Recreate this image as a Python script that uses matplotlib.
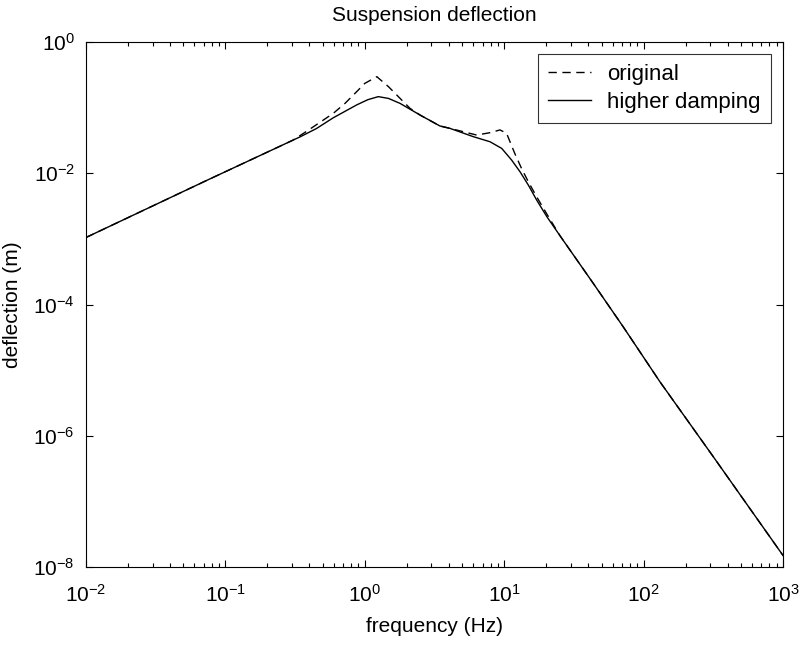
import matplotlib
matplotlib.use('Agg')
import matplotlib.pyplot as plt
from matplotlib.ticker import LogLocator, NullLocator, NullFormatter

plt.rcParams['font.family'] = ['Liberation Sans', 'DejaVu Sans']
plt.rcParams['mathtext.default'] = 'regular'

# frequency response, original suspension (Hz, m)
f_orig = [0.01, 0.0726, 0.304, 0.383, 0.594, 0.721, 0.851, 1.0, 1.22,
          1.48, 1.74, 2.11, 2.49, 3.46, 4.08, 6.34, 7.91, 9.33, 10.4,
          11.9, 13.3, 14.9, 17.1, 20.2, 25.1, 43.6, 71.4, 131, 316, 1000]
d_orig = [1.05e-3, 7.69e-3, 0.0318, 0.0436, 0.0818, 0.116, 0.165, 0.234, 0.296,
          0.208, 0.147, 0.0975, 0.0771, 0.0525, 0.0483, 0.0382, 0.0415, 0.0457, 0.0406,
          0.0201, 0.0119, 0.0074, 0.00437, 0.0024, 1.12e-3, 2.09e-4, 4.57e-5, 6.64e-6, 4.8e-7, 1.5e-8]

# frequency response, higher damping
f_damp = [0.01, 0.0726, 0.304, 0.343, 0.45, 0.594, 0.875, 1.05, 1.25, 1.48,
          1.79, 2.49, 3.46, 4.08, 6.0, 7.91, 9.6, 11.3, 13.0, 14.9,
          17.1, 20.2, 25.1, 43.6, 71.4, 131, 316, 1000]
d_damp = [1.05e-3, 7.69e-3, 0.0318, 0.0358, 0.0480, 0.0700, 0.110, 0.132, 0.147, 0.138,
          0.116, 0.0771, 0.0525, 0.0483, 0.0361, 0.0302, 0.0239, 0.0159, 0.0105, 0.0066,
          0.0039, 0.00219, 1.12e-3, 2.09e-4, 4.57e-5, 6.64e-6, 4.8e-7, 1.5e-8]

fig = plt.figure(figsize=(8.03, 6.45), dpi=100)
ax = fig.add_axes([0.1071, 0.1209, 0.868, 0.814])

ax.loglog(f_orig, d_orig, color='black', linestyle=(0, (6, 4)), linewidth=1.0, label='original')
ax.loglog(f_damp, d_damp, color='black', linestyle='-', linewidth=1.0, label='higher damping')

ax.set_xlim(1e-2, 1e3)
ax.set_ylim(1e-8, 1e0)
ax.set_yticks([1e-8, 1e-6, 1e-4, 1e-2, 1e0])
ax.yaxis.set_minor_locator(NullLocator())
ax.xaxis.set_major_locator(LogLocator(base=10, numticks=10))
ax.xaxis.set_minor_locator(LogLocator(base=10, subs=range(2, 10), numticks=20))
ax.xaxis.set_minor_formatter(NullFormatter())

ax.tick_params(which='both', direction='in', top=True, right=True, labelsize=15, width=0.8)
ax.tick_params(which='major', length=5)
ax.tick_params(axis='x', which='major', pad=12)
ax.tick_params(axis='y', which='major', pad=8)
ax.tick_params(which='minor', length=3)
for s in ax.spines.values():
    s.set_linewidth(0.8)

ax.set_title('Suspension deflection', fontsize=15, pad=15)
ax.set_xlabel('frequency (Hz)', fontsize=15, labelpad=8)
ax.set_ylabel('deflection (m)', fontsize=15, labelpad=8)

leg = ax.legend(loc='upper right', fontsize=16, frameon=True, fancybox=False,
                edgecolor='black', handlelength=1.9, borderaxespad=0.55,
                borderpad=0.45, labelspacing=0.3, handletextpad=0.75)
leg.get_frame().set_linewidth(0.8)

fig.savefig('out.png', dpi=100)
